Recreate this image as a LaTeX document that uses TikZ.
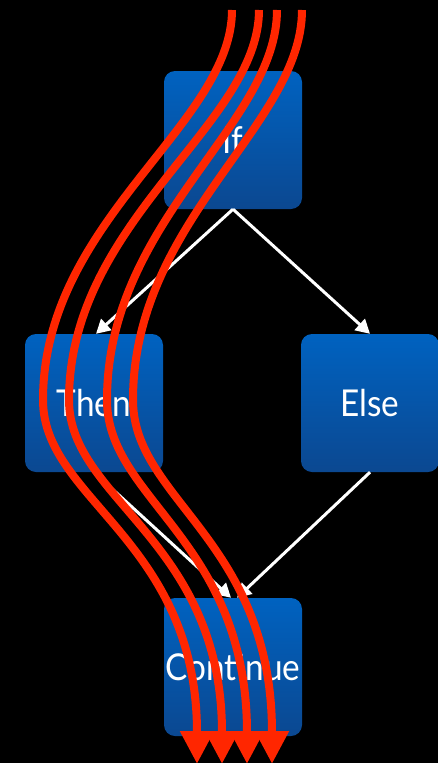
\documentclass[tikz,border=0pt]{standalone}
\usepackage{fontspec}
\newfontfamily\boxfont[FakeStretch=0.9]{Lato}
\usetikzlibrary{arrows.meta}
\definecolor{boxtop}{HTML}{0062C0}
\definecolor{boxbot}{HTML}{0B4891}
\definecolor{flowred}{HTML}{FF2600}
\tikzset{
  block/.style={minimum width=138pt, minimum height=138pt, rounded corners=11pt,
    top color=boxtop, bottom color=boxbot, text=white, inner sep=0pt,
    font=\boxfont\fontsize{37}{37}\selectfont},
  link/.style={draw=white, line width=3pt, -{Triangle[width=15pt,length=14pt]}},
  flow/.style={draw=flowred, line width=8pt, -{Triangle[width=32pt,length=33pt]}}
}
\begin{document}
\begin{tikzpicture}[x=1pt, y=-1pt]
  % canvas
  \fill[black] (0,0) rectangle (438,763);
  \useasboundingbox (0,0) rectangle (438,763);

  % the four blocks
  \node[block] (if)   at (233,140) {If};
  \node[block] (then) at (94,403)  {Then};
  \node[block] (else) at (370,403) {Else};
  \node[block] (cont) at (233,667) {Continue};

  % control-flow edges
  \draw[link] (if.south) -- ([xshift=2pt]then.north);
  \draw[link] (if.south) -- (else.north);
  \draw[link] (then.south) -- ([xshift=-2pt]cont.north);
  \draw[link] (else.south) -- ([xshift=4pt]cont.north);

  % execution paths sweeping through the Then branch
  \foreach \a/\m/\b [count=\i] in {232/43/197, 259/69/222, 277/107/247, 302/133/272}{
    \coordinate (s\i) at (\a,10);
    \coordinate (m\i) at (\m,400);
    \coordinate (e\i) at (\b,764);
    \draw[flow] (s\i) .. controls (\a,125) and (\m,220) .. (m\i)
                      .. controls (\m,500) and (\b,540) .. (e\i);
  }
\end{tikzpicture}
\end{document}
